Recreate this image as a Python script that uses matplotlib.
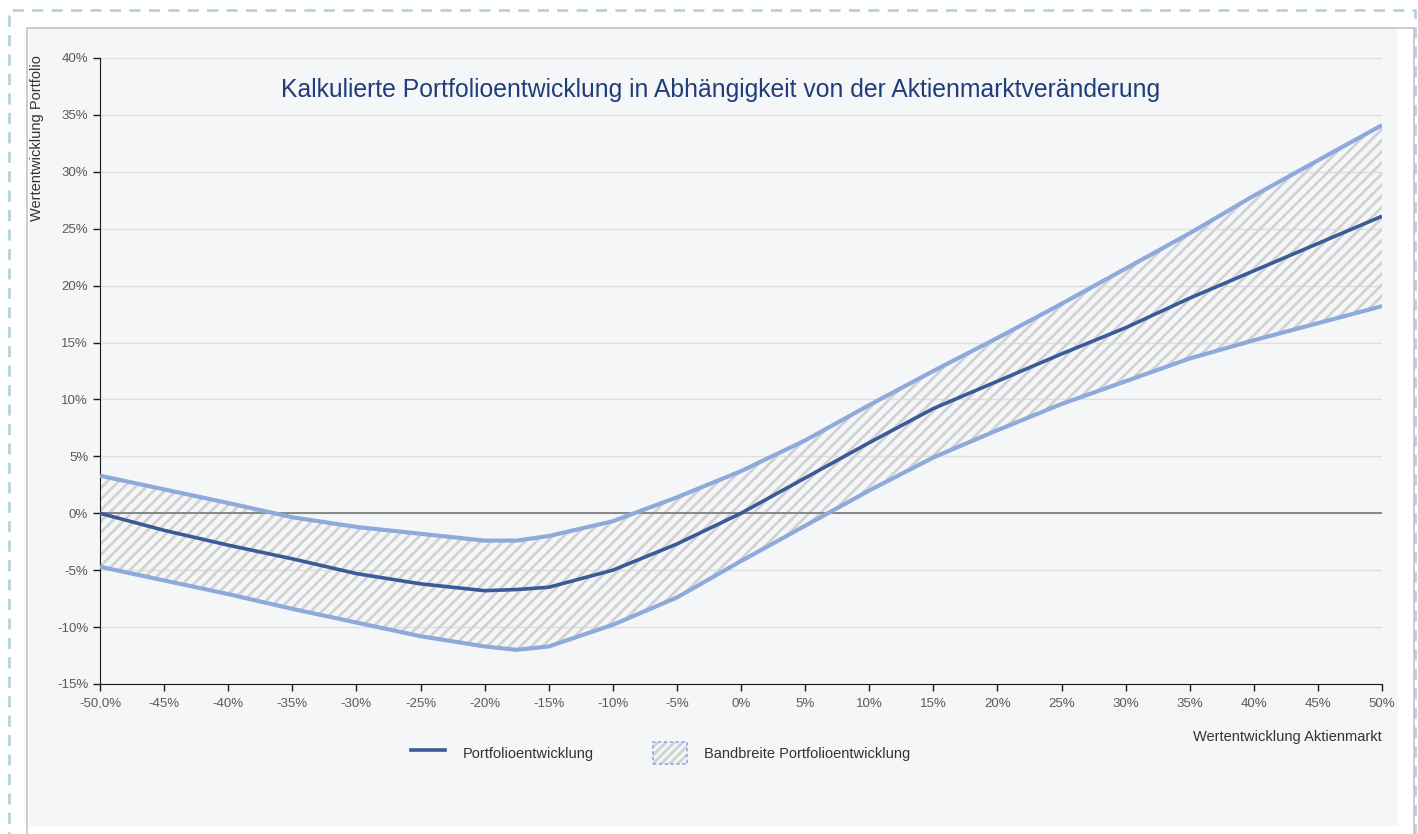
import numpy as np
import matplotlib
matplotlib.use("Agg")
import matplotlib.pyplot as plt
from matplotlib.patches import Rectangle, Patch
from matplotlib.lines import Line2D
from matplotlib.ticker import FuncFormatter

# data - market change (x) and portfolio change (y), in percent
market = [-50, -45, -40, -35, -30, -25, -20, -17.5, -15, -10, -5, 0,
          5, 10, 15, 20, 25, 30, 35, 40, 45, 50]
portfolio = [0.0, -1.5, -2.8, -4.0, -5.3, -6.2, -6.8, -6.7, -6.5, -5.0, -2.7, 0.0,
             3.1, 6.2, 9.2, 11.6, 14.0, 16.3, 18.9, 21.3, 23.7, 26.1]
band_upper = [3.3, 2.1, 0.9, -0.35, -1.2, -1.8, -2.4, -2.4, -2.0, -0.7, 1.4, 3.7,
              6.4, 9.5, 12.5, 15.4, 18.4, 21.5, 24.6, 27.9, 31.0, 34.1]
band_lower = [-4.7, -5.9, -7.1, -8.4, -9.6, -10.8, -11.7, -12.0, -11.7, -9.8, -7.4, -4.2,
              -1.1, 2.0, 4.9, 7.3, 9.6, 11.6, 13.6, 15.2, 16.7, 18.2]

title = "Kalkulierte Portfolioentwicklung in Abhängigkeit von der Aktienmarktveränderung"
xlabel = "Wertentwicklung Aktienmarkt"
ylabel = "Wertentwicklung Portfolio"
label_line = "Portfolioentwicklung"
label_band = "Bandbreite Portfolioentwicklung"

# colours
c_dark = "#3a5b97"
c_light = "#8eaadc"
c_hatch = "#d2d2d2"
c_bg = "#f5f6f8"
c_tick = "#595959"

plt.rcParams["font.family"] = ["Liberation Sans", "DejaVu Sans"]
plt.rcParams["hatch.color"] = c_hatch
plt.rcParams["hatch.linewidth"] = 2.0

W, H = 1418, 834
fig = plt.figure(figsize=(W / 100, H / 100), dpi=100)
fig.patch.set_facecolor("white")


def fbox(x0, y0, x1, y1, **kw):
    # rectangle in pixel coords (top-left origin) on the figure
    r = Rectangle((x0 / W, 1 - y1 / H), (x1 - x0) / W, (y1 - y0) / H,
                  transform=fig.transFigure, **kw)
    fig.add_artist(r)
    return r


# outer dashed frame, grey frame, panel
fbox(9, 10, 1415, 900, fill=False, edgecolor="#b5d3df", lw=2,
     linestyle=(0, (4, 3)), zorder=0)
fbox(27, 28, 1414, 900, fill=False, edgecolor="#c4c4c4", lw=1.2, zorder=0)
fbox(29, 29, 1398, 826, facecolor=c_bg, edgecolor="none", zorder=0)

ax = fig.add_axes([100 / W, 1 - 684 / H, (1382 - 100) / W, (684 - 58) / H])
ax.set_facecolor("none")

ax.fill_between(market, band_lower, band_upper, facecolor="none",
                edgecolor=c_hatch, hatch="///", lw=0, zorder=1)
ax.axhline(0, color="#7f7f7f", lw=1.3, zorder=2)
ax.plot(market, band_upper, color=c_light, lw=3, zorder=3,
        solid_joinstyle="round", solid_capstyle="butt")
ax.plot(market, band_lower, color=c_light, lw=3, zorder=3,
        solid_joinstyle="round", solid_capstyle="butt")
ax.plot(market, portfolio, color=c_dark, lw=2.6, zorder=4,
        solid_joinstyle="round", solid_capstyle="butt")

ax.set_xlim(-50, 50)
ax.set_ylim(-15, 40)
ax.set_xticks(np.arange(-50, 51, 5))
ax.set_yticks(np.arange(-15, 41, 5))
ax.xaxis.set_major_formatter(FuncFormatter(
    lambda v, p: "-50,0%" if v == -50 else "{:.0f}%".format(v)))
ax.yaxis.set_major_formatter(FuncFormatter(lambda v, p: "{:.0f}%".format(v)))
ax.grid(axis="y", color="#dedede", lw=1)
ax.set_axisbelow(True)
for s in ["top", "right"]:
    ax.spines[s].set_visible(False)
ax.spines["left"].set_color("#1a1a1a")
ax.spines["bottom"].set_color("#1a1a1a")
ax.tick_params(axis="both", colors="#1a1a1a", labelcolor=c_tick,
               labelsize=9.5, length=5, width=1)
ax.tick_params(axis="x", pad=5)

fig.text(721 / W, 1 - 90 / H, title, ha="center", va="center",
         fontsize=17.8, color="#1f3d7a")
fig.text(37 / W, 1 - 55 / H, ylabel, rotation=90, ha="center", va="top",
         fontsize=10.5, color="#333333")
fig.text(1382 / W, 1 - 737 / H, xlabel, ha="right", va="center",
         fontsize=10.5, color="#333333")

band_handle = (Patch(facecolor="none", edgecolor=c_hatch, hatch="////", lw=0),
               Patch(facecolor="none", edgecolor=c_light,
                     linestyle=(0, (2, 1.5)), lw=1.2))
handles = [Line2D([], [], color=c_dark, lw=2.6), band_handle]
fig.legend(handles, [label_line, label_band], loc="center",
           bbox_to_anchor=(661 / W, 1 - 753 / H), ncol=2, frameon=False,
           fontsize=10.5, handlelength=2.3, handleheight=1.9,
           columnspacing=4.1, handletextpad=1.2, labelcolor="#333333")

fig.savefig("out.png", dpi=100, facecolor="white")
